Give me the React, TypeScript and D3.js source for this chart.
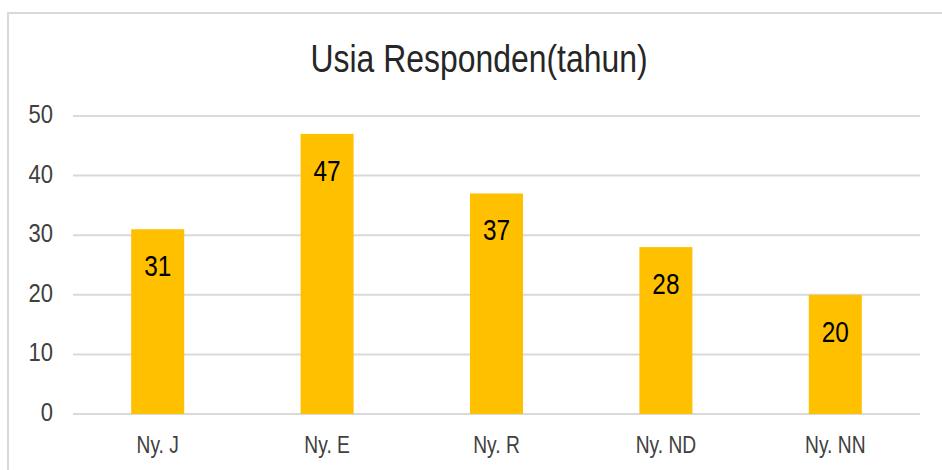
import React, { useRef, useEffect } from "react";
import * as d3 from "d3";

const categories = ["Ny. J", "Ny. E", "Ny. R", "Ny. ND", "Ny. NN"];
const ages = [31, 47, 37, 28, 20];
const yTicks = [0, 10, 20, 30, 40, 50];
const title = "Usia Responden(tahun)";

const App = () => {
  const svgRef = useRef<SVGSVGElement>(null);

  useEffect(() => {
    const width = 942;
    const height = 470;
    const margin = { top: 116, right: 22, bottom: 56, left: 73 };
    const font = "'Liberation Sans', Arial, sans-serif";

    const svg = d3
      .select(svgRef.current)
      .attr("width", width)
      .attr("height", height)
      .html("");

    svg.append("rect").attr("width", width).attr("height", height).attr("fill", "#fff");

    // chart border
    svg
      .append("rect")
      .attr("x", 8)
      .attr("y", 13)
      .attr("width", 960)
      .attr("height", 500)
      .attr("fill", "none")
      .attr("stroke", "#d9d9d9")
      .attr("stroke-width", 2);

    const x = d3
      .scaleBand()
      .domain(categories)
      .range([margin.left, width - margin.right])
      .paddingInner(0.687)
      .paddingOuter(0.687 / 2);

    const y = d3
      .scaleLinear()
      .domain([0, 50])
      .range([height - margin.bottom, margin.top]);

    // gridlines
    svg
      .append("g")
      .selectAll("line")
      .data(yTicks)
      .join("line")
      .attr("x1", margin.left)
      .attr("x2", width - margin.right)
      .attr("y1", (d) => y(d))
      .attr("y2", (d) => y(d))
      .attr("stroke", "#d9d9d9")
      .attr("stroke-width", 2);

    // y tick labels
    svg
      .append("g")
      .selectAll("text")
      .data(yTicks)
      .join("text")
      .attr("transform", (d) => `translate(53,${y(d) + 7}) scale(0.88,1)`)
      .attr("text-anchor", "end")
      .attr("font-family", font)
      .attr("font-size", 25)
      .attr("fill", "#404040")
      .text((d) => d);

    // bars
    svg
      .append("g")
      .selectAll("rect")
      .data(ages)
      .join("rect")
      .attr("x", (d, i) => x(categories[i]))
      .attr("y", (d) => y(d))
      .attr("width", x.bandwidth())
      .attr("height", (d) => y(0) - y(d))
      .attr("fill", "#FFC000");

    // data labels
    svg
      .append("g")
      .selectAll("text")
      .data(ages)
      .join("text")
      .attr(
        "transform",
        (d, i) => `translate(${x(categories[i]) + x.bandwidth() / 2},${y(d) + 47}) scale(0.84,1)`
      )
      .attr("text-anchor", "middle")
      .attr("font-family", font)
      .attr("font-size", 29)
      .attr("fill", "#000")
      .text((d) => d);

    // x labels
    svg
      .append("g")
      .selectAll("text")
      .data(categories)
      .join("text")
      .attr("transform", (d) => `translate(${x(d) + x.bandwidth() / 2},453) scale(0.8,1)`)
      .attr("text-anchor", "middle")
      .attr("font-family", font)
      .attr("font-size", 24)
      .attr("fill", "#404040")
      .text((d) => d);

    // title
    svg
      .append("text")
      .attr("transform", `translate(479,72) scale(0.84,1)`)
      .attr("text-anchor", "middle")
      .attr("font-family", font)
      .attr("font-size", 38)
      .attr("fill", "#262626")
      .text(title);
  }, []);

  return (
    <div style={{ position: "absolute", left: 0, top: 0 }}>
      <svg ref={svgRef} style={{ display: "block" }} />
    </div>
  );
};

export default App;
